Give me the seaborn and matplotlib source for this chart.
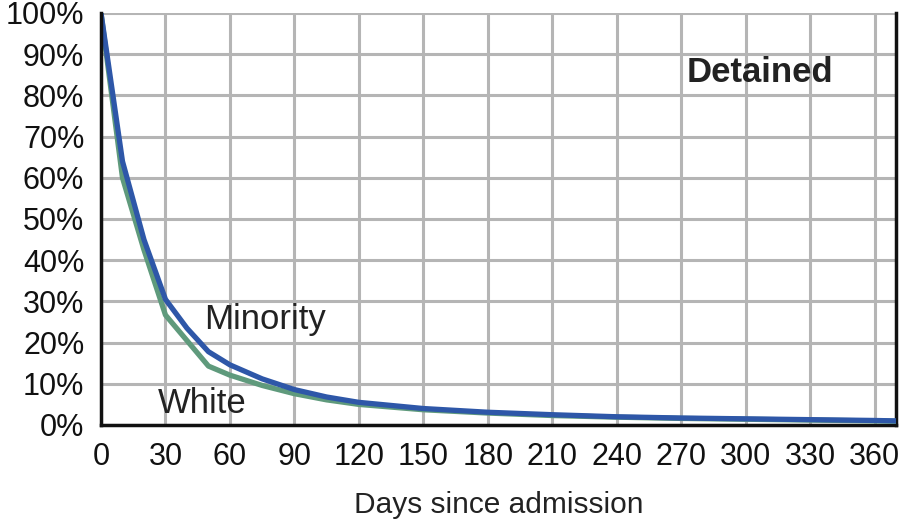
import pandas as pd
import seaborn as sns
import matplotlib.pyplot as plt

# days since admission, share still detained (%)
days = [0, 10, 20, 30, 40, 50, 60, 75, 90, 105, 120, 150, 180, 210, 240, 270, 300, 330, 360, 370]
minority = [100, 64, 45, 30.5, 23.5, 17.8, 14.6, 11.2, 8.6, 6.8, 5.5, 4.0, 3.1, 2.5, 2.0, 1.7, 1.5, 1.3, 1.1, 1.0]
white = [100, 60, 42.5, 26.7, 20.5, 14.3, 12.1, 9.6, 7.6, 6.1, 5.0, 3.7, 2.9, 2.3, 1.9, 1.6, 1.4, 1.2, 1.0, 0.9]

x_ticks = list(range(0, 361, 30))
y_ticks = list(range(0, 101, 10))


def build_frame():
    rows = []
    for d, w in zip(days, white):
        rows.append({"day": d, "pct": w, "group": "White"})
    for d, m in zip(days, minority):
        rows.append({"day": d, "pct": m, "group": "Minority"})
    return pd.DataFrame(rows)


def main():
    sns.set_style("white")
    plt.rcParams['font.family'] = ['Liberation Sans', 'DejaVu Sans']

    df = build_frame()
    fig = plt.figure(figsize=(8.99, 5.2), dpi=100)
    ax = fig.add_axes([101 / 899, 95 / 520, 795 / 899, 412 / 520])

    sns.lineplot(data=df, x="day", y="pct", hue="group",
                 palette={"White": "#5f9a7c", "Minority": "#2e57a8"},
                 linewidth=3.8, legend=False, ax=ax, zorder=3)

    ax.set_xlim(0, 370)
    ax.set_ylim(0, 100)
    ax.set_xticks(x_ticks)
    ax.set_yticks(y_ticks)
    ax.set_yticklabels([f"{v}%" for v in y_ticks])
    ax.grid(True, color="#b5b5b5", linewidth=2.2)
    ax.set_axisbelow(True)

    ax.spines["top"].set_visible(False)
    for side in ["left", "right", "bottom"]:
        ax.spines[side].set_color("#111111")
        ax.spines[side].set_linewidth(2.5)
        ax.spines[side].set_visible(True)
    ax.spines["left"].set_zorder(4)

    ax.tick_params(axis="both", direction="out", length=7, width=2,
                   colors="#111111", labelsize=22, pad=5)
    ax.tick_params(axis="x", pad=5)

    ax.set_xlabel("Days since admission", fontsize=21.5, color="#222222", labelpad=14)
    ax.set_ylabel("")

    ax.text(48, 25.5, "Minority", fontsize=25, color="#222222", va="center", ha="left")
    ax.text(26.5, 5.3, "White", fontsize=25, color="#222222", va="center", ha="left")
    ax.text(272.5, 85.5, "Detained", fontsize=25, fontweight="bold", color="#222222",
            va="center", ha="left")

    fig.savefig("out.png", dpi=100)


if __name__ == "__main__":
    main()
